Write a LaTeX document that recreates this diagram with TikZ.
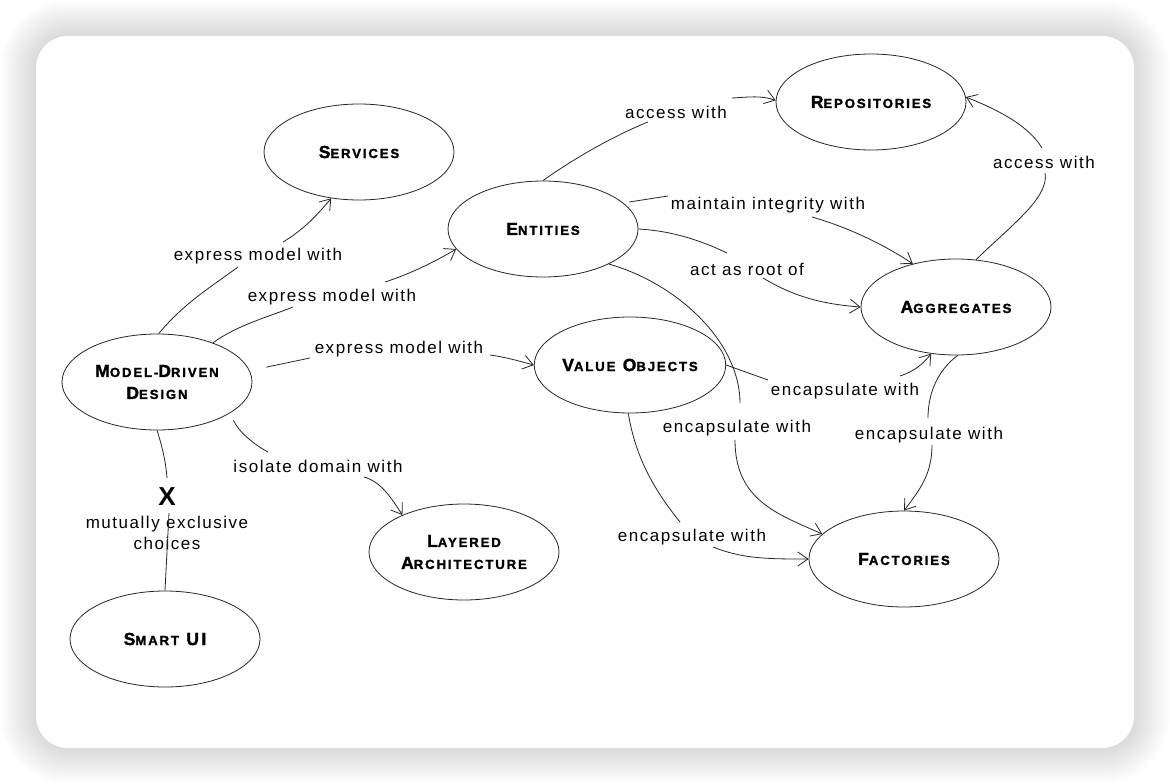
\documentclass[tikz,border=0pt]{standalone}
\usepackage{fontspec}
\setmainfont{Liberation Sans}
\newfontfamily\labfont{Liberation Sans}[LetterSpace=9]
\newfontfamily\ttlfont{Liberation Sans Bold}[LetterSpace=14,FakeBold=1.6]
\usetikzlibrary{shapes.geometric,arrows.meta}
\newcommand\bigc[1]{{\fontsize{17.5}{22}\selectfont #1}}
\newcommand\smc[1]{{\fontsize{13.2}{22}\selectfont #1}}
\begin{document}
\begin{tikzpicture}[x=1pt,y=-1pt,
  concept/.style={ellipse,draw=black!85,line width=0.8pt,minimum width=190pt,minimum height=96pt,inner sep=0pt,font=\ttlfont\fontsize{17.5}{22}\selectfont,align=center},
  lab/.style={font=\labfont\fontsize{17}{21}\selectfont,align=center,inner sep=1pt},
  link/.style={draw=black!85,line width=0.8pt},
  arr/.style={link,-{Straight Barb[length=10pt,width=14pt]}}]
\useasboundingbox (0,0) rectangle (1170,784);
\fill[white] (0,0) rectangle (1170,784);
% card shadow
\foreach \i in {1,...,18}{
  \pgfmathsetmacro{\rr}{32+2*\i}
  \fill[black,opacity=0.009,rounded corners=\rr pt] ({36-2*\i},{36-2*\i}) rectangle ({1134+2*\i},{748+2*\i});
}
\fill[white,rounded corners=32pt] (36,36) rectangle (1134,748);

% concepts
\node[concept] (svc) at (359,152) {\bigc{S}\smc{ERVICES}};
\node[concept] (repo) at (871,102) {\bigc{R}\smc{EPOSITORIES}};
\node[concept] (ent) at (543,229) {\bigc{E}\smc{NTITIES}};
\node[concept] (agg) at (956,307) {\bigc{A}\smc{GGREGATES}};
\node[concept] (mdd) at (157,382) {\bigc{M}\smc{ODEL-}\bigc{D}\smc{RIVEN}\\\bigc{D}\smc{ESIGN}};
\node[concept] (vo) at (630,365) {\bigc{V}\smc{ALUE} \bigc{O}\smc{BJECTS}};
\node[concept] (lay) at (464,552) {\bigc{L}\smc{AYERED}\\\bigc{A}\smc{RCHITECTURE}};
\node[concept] (fac) at (904,559) {\bigc{F}\smc{ACTORIES}};
\node[concept] (smart) at (165,639) {\bigc{S}\smc{MART} \bigc{UI}};

% labels
\node[lab] (l1) at (258,256) {express model with};
\node[lab] (l2) at (332,297) {express model with};
\node[lab] (l3) at (399,349) {express model with};
\node[lab] (l4) at (318,466) {isolate domain with};
\node[font=\bfseries\fontsize{26}{26}\selectfont,inner sep=0pt] (xx) at (167,497) {X};
\node[lab] (l5) at (167,533) {mutually exclusive\\choices};
\node[lab] (l6) at (676,112) {access with};
\node[lab] (l7) at (768,205) {maintain integrity with};
\node[lab] (l8) at (747,269) {act as root of};
\node[lab] (l9) at (1044,162) {access with};
\node[lab] (l10) at (845,391) {encapsulate with};
\node[lab] (l11) at (737,428) {encapsulate with};
\node[lab] (l12) at (929,435) {encapsulate with};
\node[lab] (l13) at (692,537) {encapsulate with};

% break points
\coordinate (c1a) at (238,267); \coordinate (c1b) at (283,242);
\coordinate (c2a) at (293,307); \coordinate (c2b) at (385,282);
\coordinate (c3a) at (310,358); \coordinate (c3b) at (490,355);
\coordinate (c4a) at (268,452); \coordinate (c4b) at (364,477);
\coordinate (c5a) at (167,478); \coordinate (c5b) at (169,513);
\coordinate (c6a) at (648,122); \coordinate (c6b) at (732,98);
\coordinate (c7a) at (668,196); \coordinate (c7b) at (812,217);
\coordinate (c8a) at (727,253); \coordinate (c8b) at (763,278);
\coordinate (c9a) at (1045,173); \coordinate (c9b) at (1042,148);
\coordinate (c10a) at (768,380); \coordinate (c10b) at (900,376);
\coordinate (c11a) at (740,403); \coordinate (c11b) at (735,440);
\coordinate (c12a) at (928,418); \coordinate (c12b) at (932,445);
\coordinate (c13a) at (680,522); \coordinate (c13b) at (713,547);

% connectors
\draw[link] (mdd.88) .. controls +(25,-30) and +(-30,22) .. (c1a);
\draw[arr] (c1b) .. controls +(20,-12) and +(-15,18) .. (svc.239);

\draw[link] (mdd.35) .. controls +(25,-18) and +(-25,10) .. (c2a);
\draw[arr] (c2b) .. controls +(25,-8) and +(-20,12) .. (ent.193);

\draw[link,shorten <=17pt] (mdd.7) -- (c3a);
\draw[arr] (c3b) .. controls +(15,2) and +(-15,-4) .. (vo.west);

\draw[link,shorten <=8pt] (mdd.-23) .. controls +(8,18) and +(-15,-8) .. (c4a);
\draw[arr] (c4b) .. controls +(18,5) and +(-10,-15) .. (lay.149);

\draw[link] (mdd.270) .. controls +(5,15) and +(-1,-15) .. (c5a);
\draw[link] (c5b) -- (smart.90);

\draw[link] (ent.90) .. controls +(35,-25) and +(-30,12) .. (c6a);
\draw[arr] (c6b) .. controls +(18,-1) and +(-15,-5) .. (repo.179);

\draw[link,shorten <=6pt] (ent.18) -- (c7a);
\draw[arr] (c7b) .. controls +(35,10) and +(-30,-20) .. (agg.135);

\draw[link] (ent.0) .. controls +(35,2) and +(-25,-12) .. (c8a);
\draw[arr] (c8b) .. controls +(30,18) and +(-40,-3) .. (agg.180);

\draw[link] (agg.67) .. controls +(30,-30) and +(5,25) .. (c9a);
\draw[arr] (c9b) .. controls +(-15,-25) and +(25,10) .. (repo.3);

\draw[link] (vo.0) -- (c10a);
\draw[arr] (c10b) .. controls +(15,-5) and +(-8,10) .. (agg.242);

\draw[link] (ent.-28) .. controls +(70,20) and +(0,-60) .. (c11a);
\draw[arr] (c11b) .. controls +(0,60) and +(-45,-20) .. (fac.163);

\draw[link] (agg.-88) .. controls +(-20,15) and +(0,-25) .. (c12a);
\draw[arr] (c12b) .. controls +(0,30) and +(15,-20) .. (fac.90);

\draw[link] (vo.-92) .. controls +(8,50) and +(-20,-25) .. (c13a);
\draw[arr] (c13b) .. controls +(30,12) and +(-40,0) .. (fac.180);
\end{tikzpicture}
\end{document}
